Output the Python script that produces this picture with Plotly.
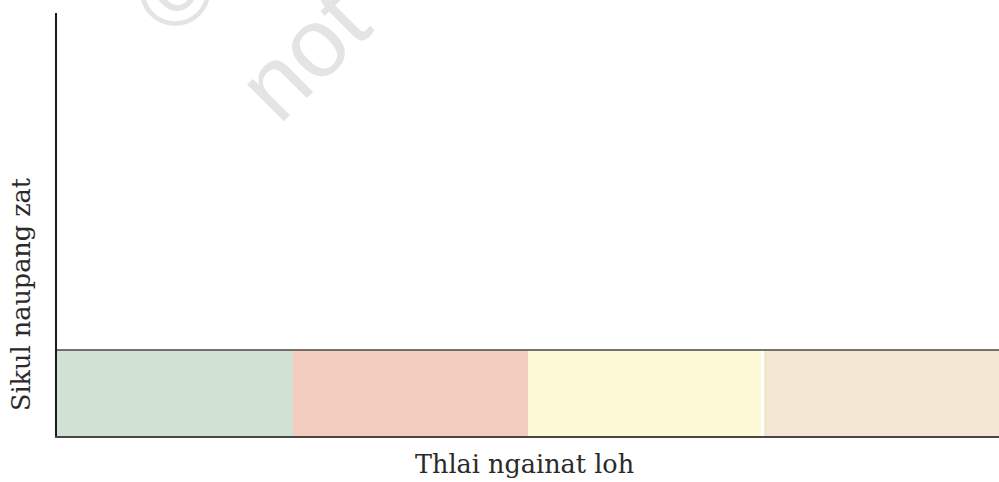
import plotly.graph_objects as go

# Growth-stage bands along the horizontal axis
stages = ["I", "II", "III", "IV"]
band_height = [1, 1, 1, 1]
band_colors = ["#d0e2d4", "#f2cdc0", "#fef9d6", "#f3e6d3"]
band_widths = [1, 1, 0.99, 1]

x_title = "Thlai ngainat loh"
y_title = "Sikul naupang zat"

W, H = 999, 482
L, R, T, B = 57, 0, 13, 46
plot_w = W - L - R
plot_h = H - T - B

def px_x(px):
    return (px - L) / plot_w

def px_y(py):
    return (H - B - py) / plot_h

fig = go.Figure()

fig.add_trace(go.Bar(
    x=stages,
    y=band_height,
    width=band_widths,
    offset=[-0.5] * len(stages),
    marker=dict(color=band_colors, line=dict(width=0)),
    hoverinfo="skip",
    showlegend=False,
))

# Border along the top of the bands
fig.add_shape(type="line", xref="paper", yref="y",
              x0=0, x1=1, y0=max(band_height), y1=max(band_height),
              line=dict(color="#4a4644", width=1.6))

serif = "DejaVu Serif"
centred = dict(xref="paper", yref="paper", showarrow=False,
               xanchor="center", yanchor="middle")
fig.add_annotation(text=x_title, x=px_x(524), y=px_y(464),
                   font=dict(family=serif, size=25.5, color="#2a2a2a"),
                   **centred)
fig.add_annotation(text=y_title, x=px_x(21), y=px_y(294), textangle=-90,
                   font=dict(family=serif, size=25.5, color="#2a2a2a"),
                   **centred)

# Faint publisher watermark
wm = dict(family="Liberation Sans", size=98, color="#e4e4e4")
fig.add_annotation(text="not", x=px_x(303), y=px_y(54), textangle=-45,
                   font=wm, **centred)
fig.add_annotation(text="©", x=px_x(175), y=px_y(-10), textangle=-45,
                   font=dict(family="Liberation Sans", size=100, color="#e4e4e4"),
                   **centred)

fig.update_layout(
    width=W, height=H,
    margin=dict(l=L, r=R, t=T, b=B),
    paper_bgcolor="white", plot_bgcolor="white",
    bargap=0,
    xaxis=dict(type="category", range=[-0.5, len(stages) - 0.5],
               showticklabels=False, ticks="", showgrid=False, zeroline=False,
               showline=True, linecolor="#4a4644", linewidth=1.6,
               fixedrange=True),
    yaxis=dict(range=[0, max(band_height) / px_y(350)],
               showticklabels=False, ticks="", showgrid=False, zeroline=False,
               showline=True, linecolor="#1a1a1a", linewidth=1.6,
               fixedrange=True),
)

fig.write_html("out.html")
